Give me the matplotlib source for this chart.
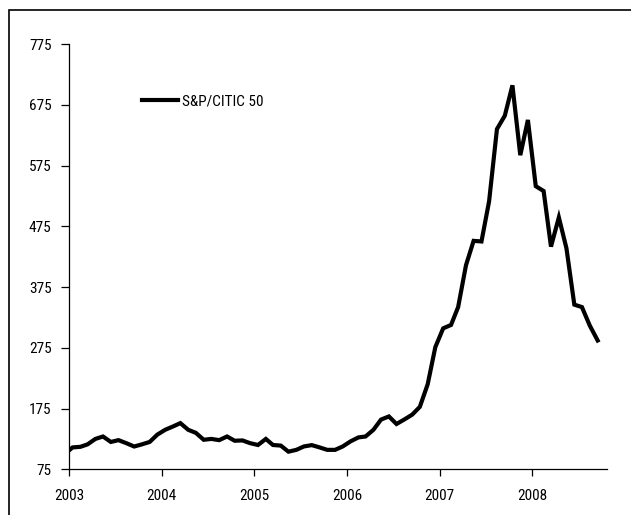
import numpy as np
import pandas as pd
import matplotlib
matplotlib.use("Agg")
import matplotlib.pyplot as plt
import matplotlib.dates as mdates
from matplotlib.patches import Rectangle

plt.rcParams['font.family'] = ['Roboto Condensed', 'PT Sans Narrow', 'Archivo Narrow',
                               'Liberation Sans', 'DejaVu Sans']

# monthly index levels, mid-month, Dec 2002 .. Sep 2008
dates = pd.to_datetime([d.replace(day=15) for d in pd.date_range("2002-12-01", periods=70, freq="MS")])
values = [
    100,
    111, 112, 116, 125, 129, 120, 123, 118, 112.5, 116, 120, 132,   # 2003
    140, 145.5, 151, 140, 135, 123.6, 125, 123, 129, 122, 122.5, 118,  # 2004
    115, 125, 115, 114, 104, 107, 112.6, 114.8, 111, 107, 107, 112.6,  # 2005
    121, 127.5, 129, 140, 156.8, 162, 149.6, 157, 165, 177.8, 215, 276,  # 2006
    307, 312.6, 342, 411, 451, 450, 516, 635, 657, 707, 592, 650,  # 2007
    541, 533, 441.5, 489.6, 438.7, 346, 342, 311.5, 287,  # 2008
]
series_name = "S&P/CITIC 50"
years = [2003, 2004, 2005, 2006, 2007, 2008]
y_ticks = [75, 175, 275, 375, 475, 575, 675, 775]

fig = plt.figure(figsize=(6.31, 5.15), dpi=100)
ax = fig.add_axes([69 / 631, 1 - 469.3 / 515, (607.3 - 69) / 631, (469.3 - 44) / 515])

ax.plot(dates, values, color="black", linewidth=3, solid_joinstyle="miter",
        label=series_name)

ax.set_ylim(75, 775)
ax.set_yticks(y_ticks)
ax.set_xlim(pd.Timestamp("2003-01-01"), pd.Timestamp("2008-10-23"))
ax.set_xticks([pd.Timestamp(f"{y}-01-01") for y in years])
ax.xaxis.set_major_formatter(mdates.DateFormatter("%Y"))

for s in ["top", "right"]:
    ax.spines[s].set_visible(False)
for s in ["left", "bottom"]:
    ax.spines[s].set_linewidth(0.9)
ax.tick_params(axis="y", direction="out", length=6, width=0.9, pad=6.5, labelsize=11)
ax.tick_params(axis="x", direction="out", length=5, width=0.9, pad=9, labelsize=11)

leg = ax.legend(loc="center left", bbox_to_anchor=(142 / 631, 1 - 101 / 515),
                bbox_transform=fig.transFigure, frameon=False, fontsize=11,
                handlelength=2.35, handletextpad=0.3, borderpad=0, borderaxespad=0)
leg.get_lines()[0].set_linewidth(3)

# outer frame (right and bottom edges fall outside the picture)
fig.add_artist(Rectangle((9 / 631, -0.1), 1.2, 1.1 - 10 / 515,
                         transform=fig.transFigure, fill=False,
                         edgecolor="black", linewidth=1.2))

fig.savefig("out.png", dpi=100)
